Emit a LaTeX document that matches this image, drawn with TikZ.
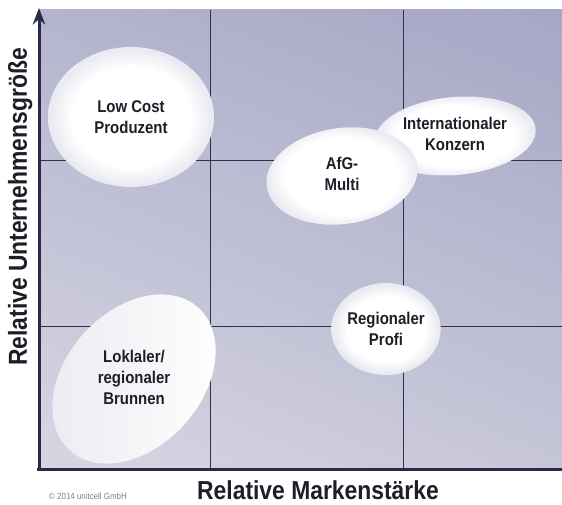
\documentclass[tikz,border=0pt]{standalone}
\usepackage{fontspec}
\usepackage{tikz}
\usetikzlibrary{arrows.meta,shapes.geometric,shadings}

\newfontfamily\chartfont[FakeStretch=0.88]{Liberation Sans}

\definecolor{axisblue}{RGB}{42,42,70}
\definecolor{gridblue}{RGB}{48,48,78}
\definecolor{bgul}{RGB}{180,180,206}
\definecolor{bgur}{RGB}{166,166,198}
\definecolor{bgll}{RGB}{214,214,227}
\definecolor{bglr}{RGB}{198,198,216}
\definecolor{ellrim}{RGB}{234,234,242}
\definecolor{labelgray}{RGB}{30,30,40}

\pgfdeclareradialshading{ellglow}{\pgfpoint{0bp}{0bp}}{color(0bp)=(white); color(18bp)=(white); color(24bp)=(ellrim); color(25bp)=(ellrim); color(50bp)=(ellrim)}

\tikzset{
	blob/.style={ellipse, inner sep=0pt, shading=ellglow, font=\chartfont\bfseries\fontsize{17}{21}\selectfont, text=labelgray, align=center},
	axislabel/.style={font=\chartfont\bfseries\fontsize{26}{30}\selectfont, text=labelgray},
	gridline/.style={gridblue, line width=0.9pt}
}

\begin{document}
\begin{tikzpicture}[x=1pt,y=1pt,>=Stealth]

			\useasboundingbox (0,0) rectangle (562,504);

			% shaded field
			\shade [upper left=bgul, upper right=bgur, lower left=bgll, lower right=bglr] (39,35) rectangle (562,494);

			\draw [gridline] (210,35) -- (210,494);
			\draw [gridline] (403,35) -- (403,494);
			\draw [gridline] (39,344) -- (562,344);
			\draw [gridline] (39,178) -- (562,178);

			\node [blob, minimum width=166, minimum height=140] (lowcost) at (131,387) {Low Cost\\Produzent};
			\node [blob, minimum width=162, minimum height=78, rotate=5] (konzern) at (455,368) {\rotatebox{-5}{\begin{tabular}{@{}c@{}}Internationaler\\Konzern\end{tabular}}};
			\node [blob, minimum width=152, minimum height=96, rotate=8] (multi) at (342,328) {\rotatebox{-8}{\begin{tabular}{@{}c@{}}AfG-\\Multi\end{tabular}}};
			\node [blob, minimum width=90, minimum height=92] (profi) at (386,175) {Regionaler\\Profi};
			\node [blob, minimum width=192, minimum height=106, rotate=48, shading=axis, left color=bgll!50!white, middle color=white, right color=white] (brunnen) at (134,125) {\rotatebox{-48}{\begin{tabular}{@{}c@{}}Loklaler/\\regionaler\\Brunnen\end{tabular}}};

			% axes
			\coordinate (origin) at (39,35);
			\coordinate (ytop) at (39,496);
			\coordinate (xend) at (562,35);
			\draw [axisblue, line width=3pt] (37,35) -- (xend);
			\draw [->, axisblue, line width=3pt] (origin) -- (ytop);

			\node [axislabel, anchor=base] (xlabel) at (318,5) {Relative Markenstärke};
			\node [axislabel, anchor=base, rotate=90] (ylabel) at (27,297) {Relative Unternehmensgröße};
			\node [font=\chartfont\fontsize{9}{11}\selectfont, text=gray] (copyright) at (88,8) {© 2014 unitcell GmbH};

\end{tikzpicture}
\end{document}
